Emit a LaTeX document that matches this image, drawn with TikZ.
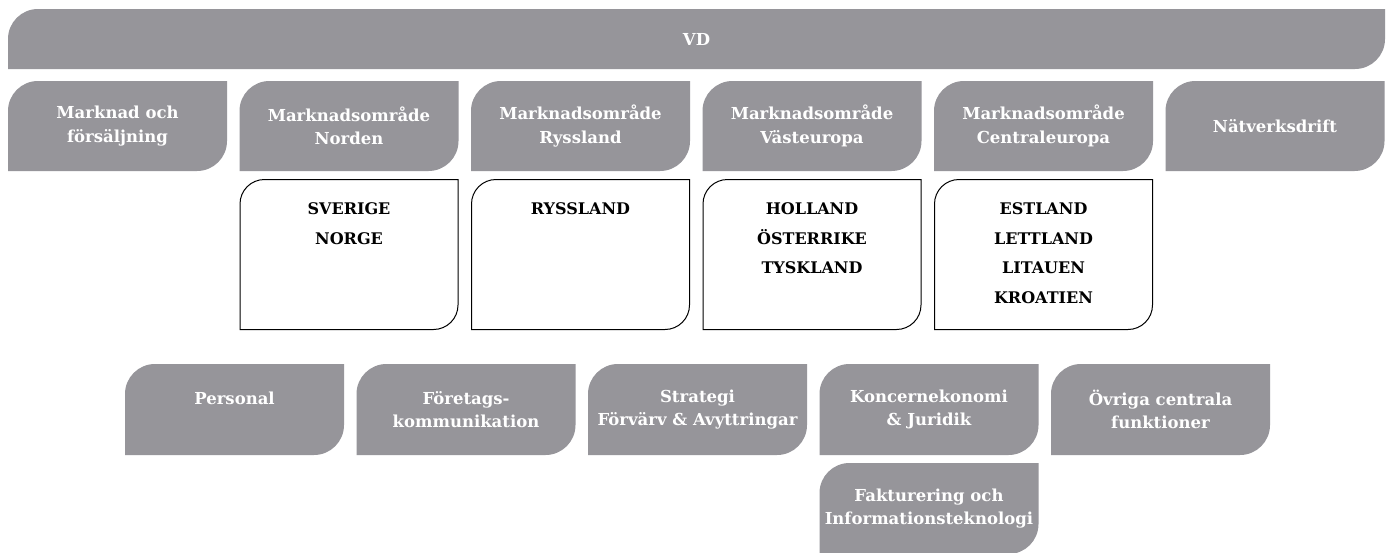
\documentclass[tikz,border=0pt]{standalone}
\usepackage{fontspec}
\setmainfont{DejaVu Serif}
\usepackage{xcolor}

\definecolor{boxgrey}{RGB}{150,149,154}
\newcommand{\ppbb}{path picture bounding box}

\begin{document}
\begin{tikzpicture}[x=1pt,y=-1pt,
  greybox/.style={minimum width=219pt, minimum height=90pt, inner sep=0pt, align=center,
    text=white, font=\bfseries\fontsize{16.5}{23.5}\selectfont,
    path picture={\fill[boxgrey] (\ppbb.south west) -- ([yshift=-30pt]\ppbb.north west)
      arc[start angle=180,end angle=90,radius=30pt] -- (\ppbb.north east)
      -- ([yshift=30pt]\ppbb.south east) arc[start angle=0,end angle=-90,radius=30pt] -- cycle;}},
  landbox/.style={minimum width=219pt, minimum height=151pt, inner sep=0pt,
    path picture={\draw[line width=1pt] ([xshift=.5pt,yshift=.5pt]\ppbb.south west)
      -- ([xshift=.5pt,yshift=-25pt]\ppbb.north west) arc[start angle=180,end angle=90,radius=24.5pt]
      -- ([xshift=-.5pt,yshift=-.5pt]\ppbb.north east) -- ([xshift=-.5pt,yshift=25pt]\ppbb.south east)
      arc[start angle=0,end angle=-90,radius=24.5pt] -- cycle;}},
  landtext/.style={anchor=north, yshift=-24pt, inner sep=0pt, align=center,
    font=\bfseries\fontsize{16}{29.4}\selectfont}]

\fill[white] (0,0) rectangle (1389,552);
\clip (0,0) rectangle (1389,552);

% top
\node [greybox, minimum width=1377pt, minimum height=60pt] (vd) at (696.5,39) {VD};

% market areas
\node [greybox] (marknad) at (117.5,126) {Marknad och\\försäljning};
\node [greybox] (norden) at (349,126) {Marknadsområde\\Norden};
\node [greybox] (ryssland) at (580.5,126) {Marknadsområde\\Ryssland};
\node [greybox] (vasteuropa) at (812,126) {Marknadsområde\\Västeuropa};
\node [greybox] (centraleuropa) at (1043.5,126) {Marknadsområde\\Centraleuropa};
\node [greybox] (natverk) at (1275,126) {Nätverksdrift};

% countries
\node [landbox, label={[landtext]north:SVERIGE\\NORGE}] (nordenland) at (349,254.5) {};
\node [landbox, label={[landtext]north:RYSSLAND}] (rysslandland) at (580.5,254.5) {};
\node [landbox, label={[landtext]north:HOLLAND\\ÖSTERRIKE\\TYSKLAND}] (vastland) at (812,254.5) {};
\node [landbox, label={[landtext]north:ESTLAND\\LETTLAND\\LITAUEN\\KROATIEN}] (centralland) at (1043.5,254.5) {};

% central functions
\node [greybox, minimum height=91pt] (personal) at (234.5,409.5) {Personal\\~};
\node [greybox, minimum height=91pt] (kommunikation) at (466,409.5) {Företags-\\kommunikation};
\node [greybox, minimum height=91pt] (strategi) at (697.5,409.5) {Strategi\\Förvärv \& Avyttringar};
\node [greybox, minimum height=91pt] (koncern) at (929,409.5) {Koncernekonomi\\\& Juridik};
\node [greybox, minimum height=91pt] (ovriga) at (1160.5,409.5) {Övriga centrala\\funktioner};
\node [greybox, minimum height=91pt] (fakturering) at (929,508.5) {Fakturering och\\Informationsteknologi};

\end{tikzpicture}
\end{document}
